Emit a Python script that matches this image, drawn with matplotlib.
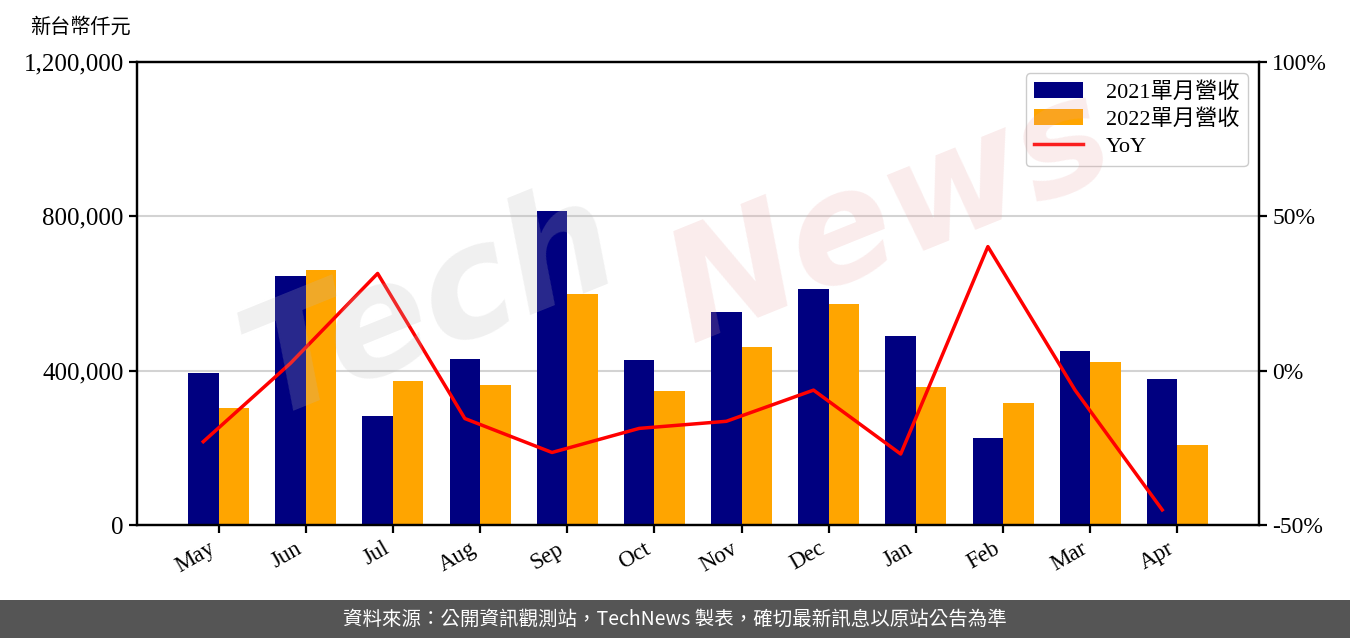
import numpy as np
import matplotlib
matplotlib.use('Agg')
import matplotlib.pyplot as plt
from matplotlib.patches import Rectangle

# Dados do gráfico
meses = ['May', 'Jun', 'Jul', 'Aug', 'Sep', 'Oct', 'Nov', 'Dec', 'Jan', 'Feb', 'Mar', 'Apr']
receita_2021 = [395000, 646000, 283000, 431000, 815000, 428000, 553000, 612000, 491000, 226000, 452000, 379000]
receita_2022 = [304000, 662000, 372000, 364000, 600000, 348000, 462000, 574000, 358000, 317000, 423000, 208000]
yoy = [-23.0, 2.4, 31.5, -15.5, -26.5, -18.7, -16.4, -6.3, -27.0, 40.2, -6.3, -45.1]
ticks_esq = [0, 400000, 800000, 1200000]
ticks_dir = [-50, 0, 50, 100]

plt.rcParams['font.family'] = ['Liberation Serif', 'Noto Sans CJK TC', 'DejaVu Sans']

fig = plt.figure(figsize=(13.5, 6.38), dpi=100)
ax = fig.add_axes([0.1015, 0.1771, 0.8311, 0.7257])
ax2 = ax.twinx()

x = np.arange(len(meses))
largura = 0.35
b1 = ax.bar(x - largura / 2, receita_2021, largura, color='#000080', label='2021單月營收', zorder=2)
b2 = ax.bar(x + largura / 2, receita_2022, largura, color='#FFA500', label='2022單月營收', zorder=2)
l1, = ax2.plot(x - largura / 2, yoy, color='red', linewidth=2.5, label='YoY')

ax.set_ylim(0, 1200000)
ax.set_yticks(ticks_esq)
ax.set_yticklabels(['{:,}'.format(v) for v in ticks_esq], fontsize=18)
ax.yaxis.grid(True, color='#d3d3d3', linewidth=1.5, zorder=0)
ax.set_axisbelow(True)

ax2.set_ylim(-50, 100)
ax2.set_yticks(ticks_dir)
ax2.set_yticklabels(['{}%'.format(v) for v in ticks_dir], fontsize=17)

ax.set_xticks(x)
ax.set_xticklabels(meses, rotation=30, ha='right', fontsize=16.5)

for a in (ax, ax2):
    for s in a.spines.values():
        s.set_linewidth(1.6)
    a.tick_params(width=1.6, length=6)

fig.text(0.022, 0.957, '新台幣仟元', fontsize=14.5, va='center', ha='left')

leg = ax.legend([b1, b2, l1], ['2021單月營收', '2022單月營收', 'YoY'],
                loc='upper right', fontsize=16, handlelength=2.2, borderpad=0.4,
                labelspacing=0.3, handletextpad=1.0, framealpha=1,
                edgecolor='#cccccc')
leg.set_zorder(10)

# marca d'água
fig.text(0.32, 0.52, 'Tech', fontsize=110, color='#bbbbbb', alpha=0.22, rotation=22,
         ha='center', va='center', style='italic', family='DejaVu Sans', weight='bold')
fig.text(0.66, 0.66, 'News', fontsize=110, color='#e8a0a0', alpha=0.2, rotation=22,
         ha='center', va='center', style='italic', family='DejaVu Sans', weight='bold')

# rodapé
fig.patches.append(Rectangle((0, 0), 1, 38 / 638, transform=fig.transFigure,
                             facecolor='#555555', edgecolor='none', zorder=0))
fig.text(0.5, 19 / 638, '資料來源：公開資訊觀測站，TechNews 製表，確切最新訊息以原站公告為準',
         color='white', fontsize=14, ha='center', va='center',
         family=['Noto Sans CJK TC', 'DejaVu Sans'])

fig.savefig('out.png', dpi=100)
